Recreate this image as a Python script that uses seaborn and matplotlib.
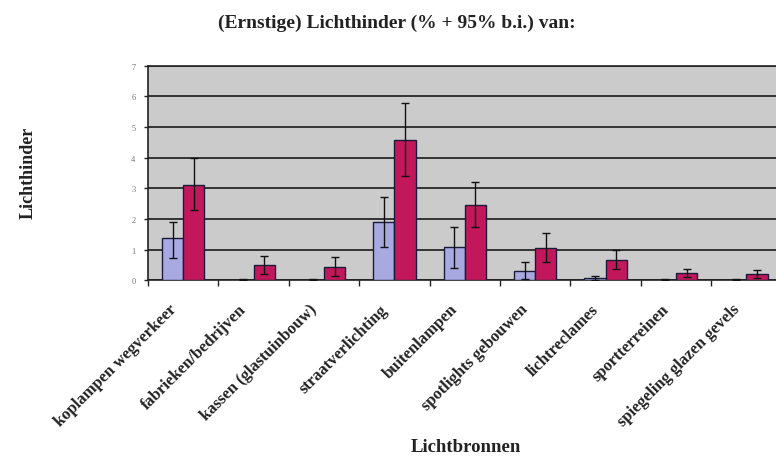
import numpy as np
import pandas as pd
import matplotlib
matplotlib.use("Agg")
import matplotlib.pyplot as plt
import matplotlib.transforms as mtransforms
import seaborn as sns

categories = ["koplampen wegverkeer", "fabrieken/bedrijven", "kassen (glastuinbouw)",
              "straatverlichting", "buitenlampen", "spotlights gebouwen",
              "lichtreclames", "sportterreinen", "spiegeling glazen gevels"]
ernstig = [1.38, 0.02, 0.02, 1.9, 1.08, 0.3, 0.08, 0.02, 0.02]
ernstig_lo = [0.72, 0.0, 0.0, 1.08, 0.4, 0.05, 0.02, 0.0, 0.0]
ernstig_hi = [1.9, 0.05, 0.05, 2.7, 1.75, 0.6, 0.15, 0.05, 0.05]
totaal = [3.12, 0.5, 0.43, 4.57, 2.47, 1.05, 0.66, 0.22, 0.2]
totaal_lo = [2.3, 0.2, 0.15, 3.4, 1.75, 0.6, 0.35, 0.1, 0.08]
totaal_hi = [3.98, 0.8, 0.75, 5.8, 3.2, 1.55, 1.0, 0.35, 0.33]

df = pd.DataFrame({
    "bron": categories * 2,
    "groep": ["ernstig"] * 9 + ["totaal"] * 9,
    "waarde": ernstig + totaal,
})

sns.set_style("white")
plt.rcParams["font.family"] = ["Liberation Serif", "DejaVu Serif"]

fig = plt.figure(figsize=(7.76, 4.64), dpi=100)
ax = fig.add_axes([0.1907, 0.394, 0.8093, 0.462])
ax.set_facecolor("#cbcbcb")

sns.barplot(data=df, x="bron", y="waarde", hue="groep", order=categories,
            palette=["#a9a9e2", "#c2185b"], saturation=1, width=0.6, legend=False,
            edgecolor="#1a1a3a", linewidth=1.0, ax=ax, zorder=3)

for cont, mid, lo, hi in zip(ax.containers, [ernstig, totaal],
                             [ernstig_lo, totaal_lo], [ernstig_hi, totaal_hi]):
    xs = [p.get_x() + p.get_width() / 2 for p in cont.patches]
    mid = np.array(mid)
    yerr = [mid - np.array(lo), np.array(hi) - mid]
    ax.errorbar(xs, mid, yerr=yerr, fmt="none", ecolor="#111111",
                elinewidth=1.0, capsize=3, capthick=1.0, zorder=4)

ax.set_ylim(0, 7)
ax.set_xlim(-0.5, 8.42)
ax.set_yticks(range(8))
ax.set_yticklabels([str(i) for i in range(8)], fontsize=6, color="#777777")
ax.yaxis.grid(True, color="#1a1a1a", linewidth=1.2, zorder=1)
ax.set_axisbelow(True)
ax.tick_params(axis="y", length=3, width=1, color="#222222", left=True, pad=6)
ax.set_xticks(range(9))
ax.set_xticklabels(categories, rotation=45, ha="right", rotation_mode="anchor",
                   fontsize=12, fontweight="bold", color="#222222")
ax.tick_params(axis="x", length=0, pad=15)
shift = mtransforms.ScaledTranslation(-15 / 100, 0, fig.dpi_scale_trans)
for lab in ax.get_xticklabels():
    lab.set_transform(lab.get_transform() + shift)
ax.set_xticks(np.arange(-0.5, 8.5, 1), minor=True)
ax.tick_params(axis="x", which="minor", length=4, width=1, color="#222222", bottom=True)
for s in ["left", "bottom", "top"]:
    ax.spines[s].set_color("#222222")
    ax.spines[s].set_linewidth(1.2)
ax.spines["right"].set_visible(False)

ax.set_xlabel("")
ax.set_ylabel("")
fig.text(466 / 776, 1 - 448 / 464, "Lichtbronnen", ha="center", va="center",
         fontsize=13.5, fontweight="bold", color="#222222")
fig.text(28 / 776, 1 - 173 / 464, "Lichthinder", ha="center", va="center",
         rotation=90, fontsize=13, fontweight="bold", color="#222222")
fig.text(397 / 776, 1 - 23 / 464, "(Ernstige) Lichthinder (% + 95% b.i.) van:",
         ha="center", va="center", fontsize=14, fontweight="bold", color="#222222")

fig.savefig("out.png", dpi=100)
